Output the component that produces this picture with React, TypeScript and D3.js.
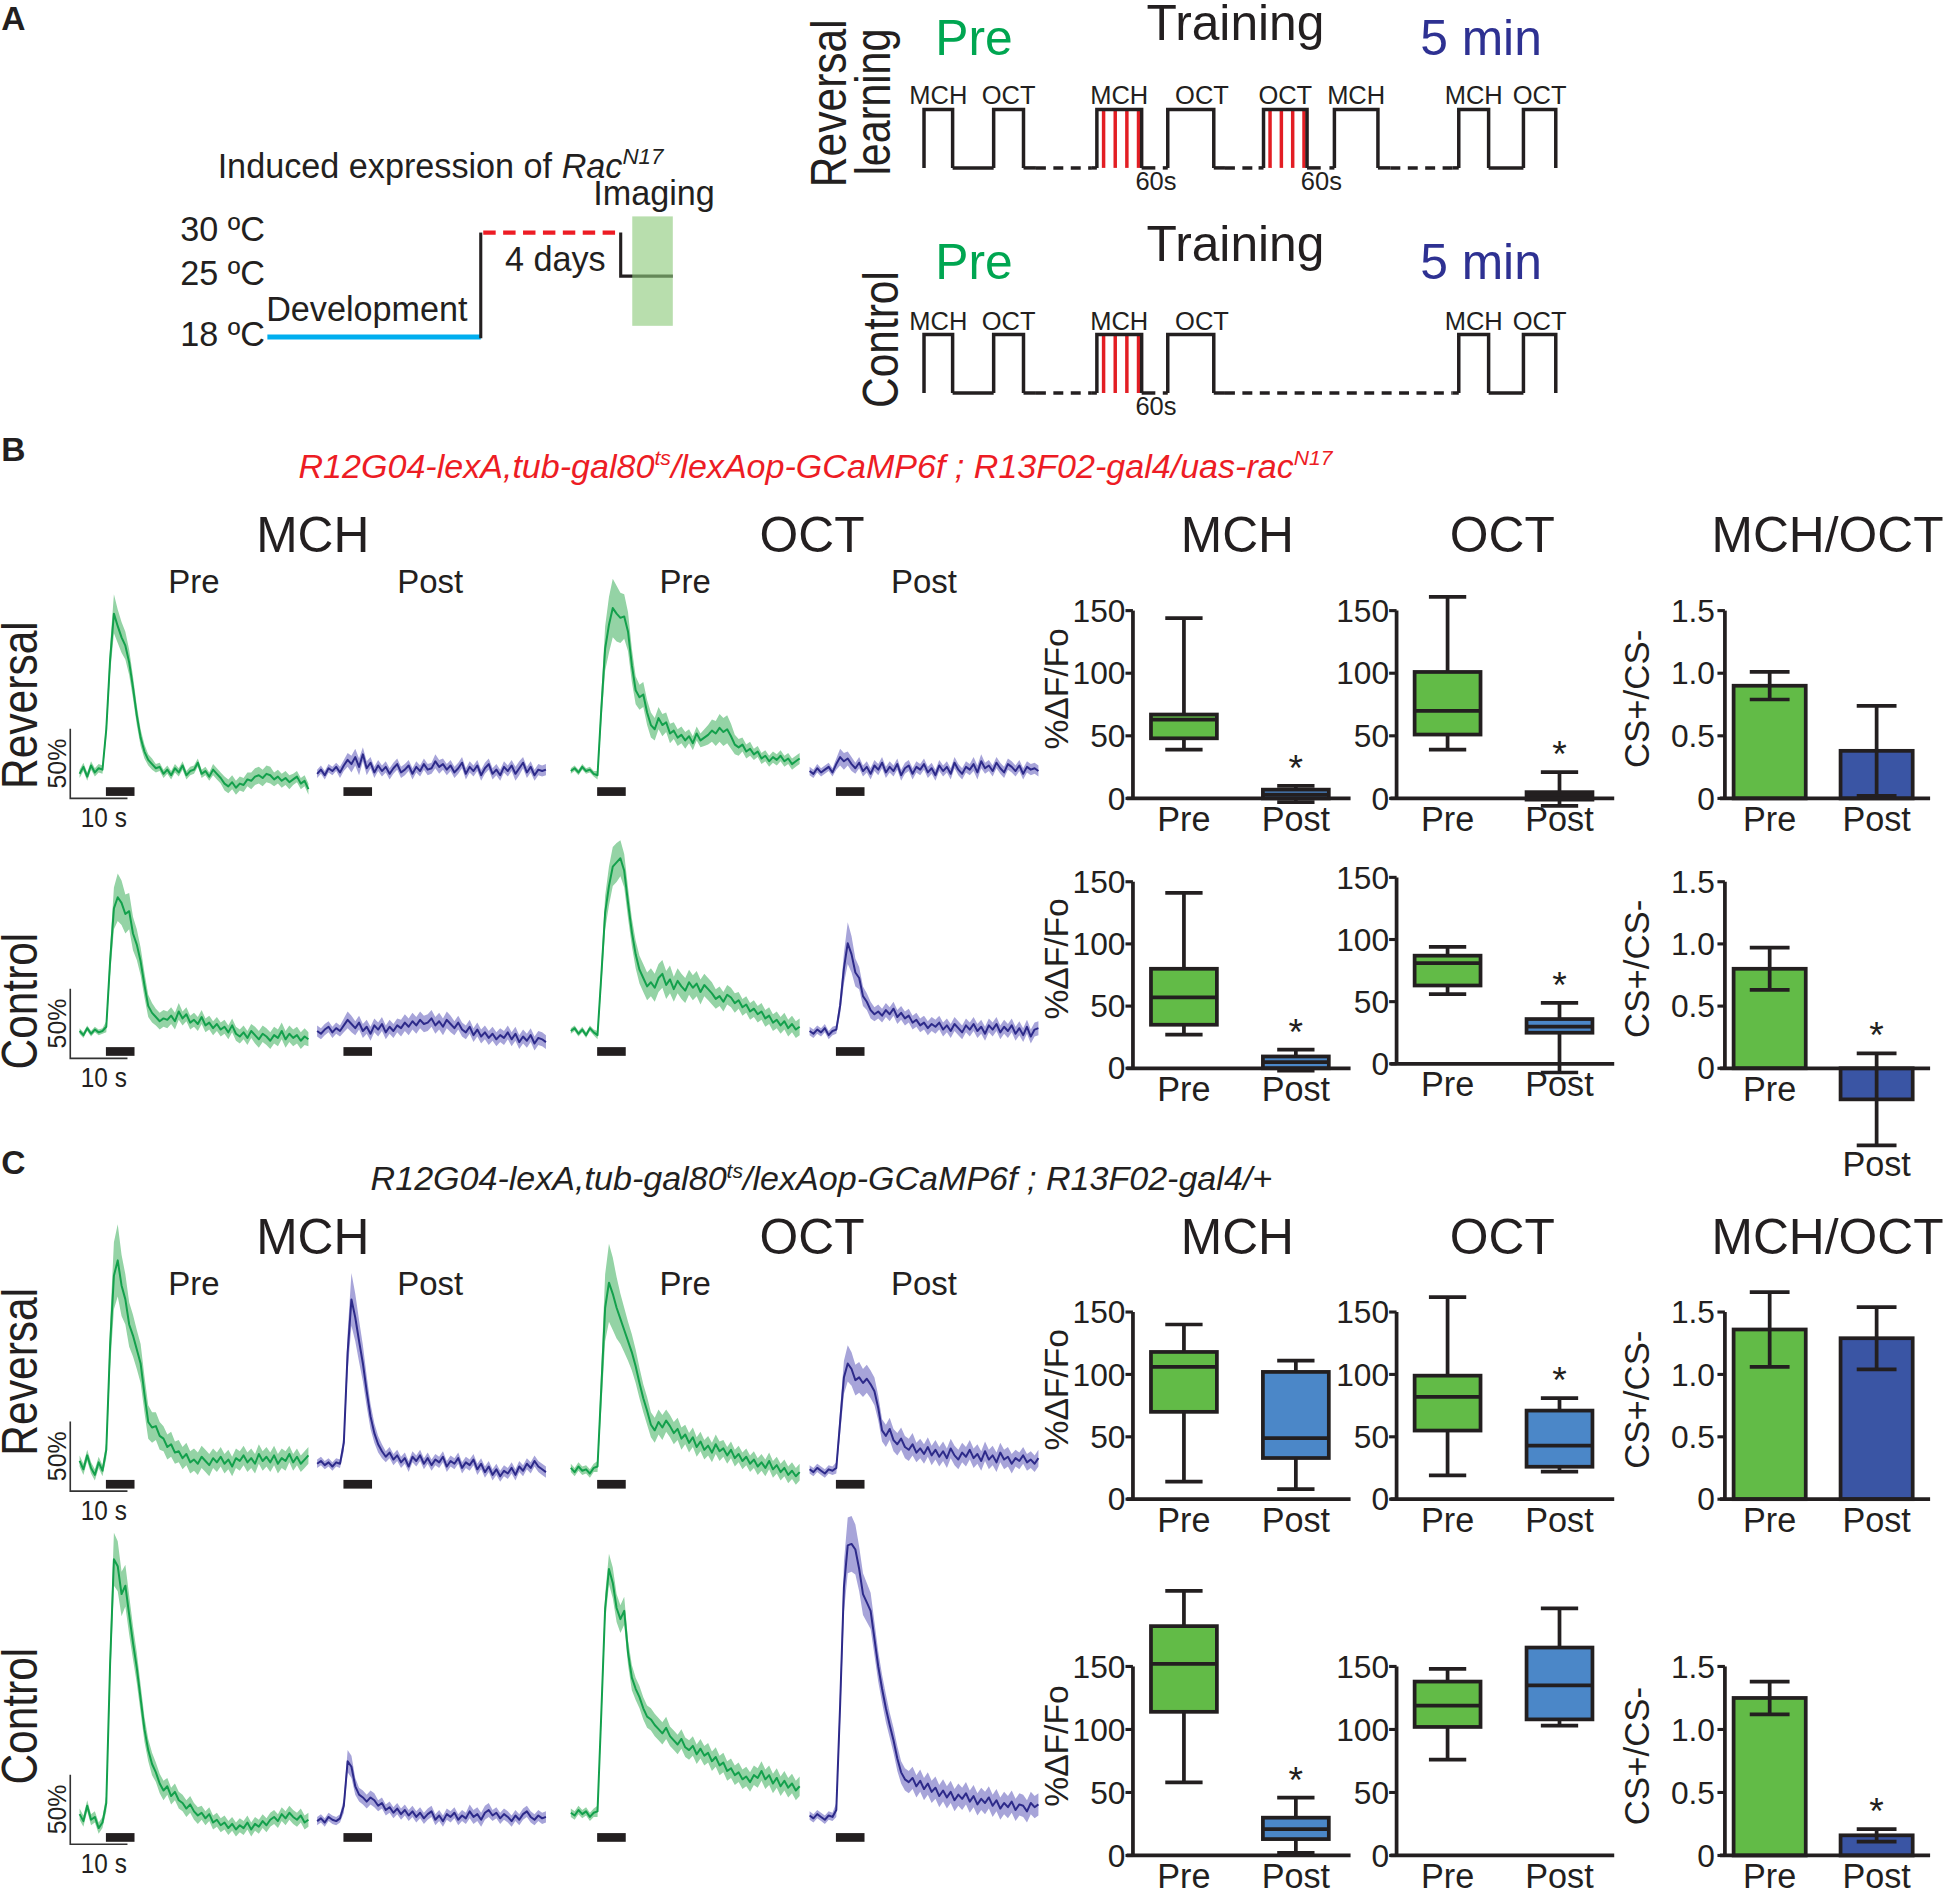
import React from 'react';
import * as d3 from 'd3';

const W = 1950;
const H = 1890;
const K = 1950 / 1568;
const FONT = "'Liberation Sans', Arial, Helvetica, sans-serif";
const INK = '#231f20';
const GREEN_LINE = '#13a04c';
const GREEN_BAND = '#94d3a5';
const BLUE_LINE = '#2d2a8a';
const BLUE_BAND = '#a7a4d9';
const BOX_GREEN = '#62bb47';
const BOX_BLUE = '#4b87c8';
const BAR_BLUE = '#3a55a4';

// ---------------- Panel A data ----------------
const tempLevels = [30, 25, 18];
const tempLabels = ['30 ºC', '25 ºC', '18 ºC'];
const timelineStops = [0, 100, 165, 171, 190]; // schematic units

const protoTopPulses = [[0, 23], [56, 80], [139, 175], [196, 233], [273, 308], [330, 365], [430, 454], [482, 508]];
const protoTopLabels = ['MCH', 'OCT', 'MCH', 'OCT', 'OCT', 'MCH', 'MCH', 'OCT'];
const protoTopShock = [false, false, true, false, true, false, false, false];
const protoTopShift = [0, 0, 0, 9, 0, 0, 0, 0];
const protoTopSolid = [[23, 56], [80, 90], [135, 139], [175, 186], [192, 196], [233, 242], [269, 273], [308, 319], [326, 330], [365, 375], [425, 430], [454, 482]];
const protoTopDashed = [[90, 135], [242, 269], [375, 425]];

const protoBotPulses = [[0, 23], [56, 80], [139, 175], [196, 233], [430, 454], [482, 508]];
const protoBotLabels = ['MCH', 'OCT', 'MCH', 'OCT', 'MCH', 'OCT'];
const protoBotShock = [false, false, true, false, false, false];
const protoBotShift = [0, 0, 0, 9, 0, 0];
const protoBotSolid = [[23, 56], [80, 90], [135, 139], [175, 186], [192, 196], [233, 242], [425, 430], [454, 482]];
const protoBotDashed = [[90, 135], [242, 425]];
const shockFractions = [0.15, 0.41, 0.67, 0.93];

// ---------------- Trace data (%ΔF/F, sampled every 2/3 s over 40 s) ----------------
const traceTimes = d3.range(61).map((i) => (i * 2) / 3);
const odorOn = 4.6;
const odorOff = 9.6;
const traceCols = ['Pre', 'Post', 'Pre', 'Post'];

const bRevMchPre = [
  -2, 3, -4, 4, -1, 2, 1, 30, 80, 113,
  104, 96, 90, 78, 60, 40, 24, 14, 8, 5,
  2, 3, -2, 1, -3, 2, -1, 4, -3, 0,
  1, 6, -2, 0, -4, 1, -2, -5, -9, -11,
  -8, -12, -9, -10, -6, -7, -4, -3, -5, -2,
  -3, -6, -4, -7, -5, -8, -6, -4, -9, -7,
  -13];
const bRevMchPreSem = [
  3, 3, 3, 3, 3, 3, 3, 6, 10, 14,
  12, 11, 10, 9, 8, 7, 6, 5, 4, 4,
  3, 3, 3, 3, 3, 3, 3, 3, 3, 3,
  3, 3, 3, 3, 3, 4, 4, 4, 5, 5,
  5, 5, 5, 5, 5, 6, 6, 6, 6, 6,
  6, 5, 5, 5, 5, 5, 4, 4, 4, 4,
  4];
const bRevMchPost = [
  -2, 1, -3, 2, 0, 3, -1, 4, 8, 5,
  10, 3, 12, 2, 6, -1, 4, 0, 3, -2,
  2, 5, -1, 1, 4, -2, 3, 0, 5, 1,
  2, 7, 3, 5, 1, 4, -1, 2, 6, -2,
  3, 0, 4, -3, 2, 5, -2, 1, -3, 3,
  0, 4, -2, 2, 6, -1, 3, -3, 1, 0,
  1];
const bRevMchPostSem = [
  3, 3, 3, 3, 3, 3, 4, 4, 5, 6,
  6, 6, 5, 5, 4, 4, 4, 4, 4, 4,
  4, 4, 4, 4, 4, 4, 4, 4, 4, 4,
  4, 5, 5, 4, 4, 4, 4, 4, 4, 4,
  4, 4, 4, 4, 4, 4, 4, 4, 4, 4,
  4, 4, 5, 5, 4, 4, 4, 4, 4, 4,
  4];
const bRevOctPre = [
  0, 2, -1, 3, 0, 1, -2, -3, 45, 88,
  105, 117, 113, 110, 111, 100, 76, 58, 53, 55,
  42, 33, 30, 38, 33, 35, 27, 29, 24, 26,
  22, 25, 20, 27, 22, 24, 26, 29, 27, 31,
  28, 30, 25, 19, 17, 19, 14, 16, 12, 14,
  9, 11, 7, 10, 8, 11, 7, 9, 5, 7,
  9];
const bRevOctPreSem = [
  2, 2, 2, 2, 2, 2, 2, 3, 10, 16,
  20, 21, 20, 18, 16, 14, 12, 10, 9, 9,
  9, 9, 8, 8, 8, 7, 7, 6, 6, 6,
  6, 5, 5, 5, 5, 6, 7, 8, 9, 10,
  10, 10, 9, 7, 6, 5, 5, 5, 4, 4,
  4, 4, 4, 4, 4, 4, 4, 4, 4, 4,
  4];
const bRevOctPost = [
  0, -2, 2, -1, 1, 3, -1, 5, 10, 7,
  9, 5, 2, 6, 0, 3, -2, 4, 1, 6,
  -1, 3, 0, 5, -3, 2, 4, -2, 3, 1,
  5, -1, 2, -3, 4, 0, 3, -2, 6, 1,
  -2, 3, 1, 5, -1, 7, 2, 4, 0, 6,
  2, -1, 5, 3, 0, 4, -2, 3, 1, 2,
  0];
const bRevOctPostSem = [
  3, 3, 3, 3, 3, 3, 3, 4, 6, 6,
  5, 5, 4, 4, 4, 4, 4, 4, 4, 4,
  4, 4, 4, 4, 4, 4, 4, 4, 4, 4,
  4, 4, 4, 4, 4, 4, 4, 4, 4, 4,
  4, 4, 4, 5, 5, 5, 4, 4, 4, 4,
  4, 4, 4, 4, 4, 4, 4, 4, 4, 4,
  4];

const bCtlMchPre = [
  0, -3, 2, -2, 1, -1, 0, 3, 50, 88,
  96, 92, 84, 86, 70, 62, 50, 33, 18, 13,
  10, 7, 9, 8, 11, 7, 14, 9, 12, 6,
  8, 5, 10, 4, 6, 2, 5, 1, 3, -1,
  4, -2, -4, -1, -5, 0, -3, -6, -2, -4,
  -7, -3, -5, 0, -6, -2, -5, -3, -7, -4,
  -6];
const bCtlMchPreSem = [
  2, 2, 2, 2, 2, 2, 2, 4, 10, 15,
  17, 16, 14, 13, 12, 11, 10, 9, 8, 7,
  6, 6, 6, 6, 6, 6, 6, 5, 5, 5,
  5, 5, 5, 5, 5, 5, 5, 5, 5, 5,
  5, 5, 5, 5, 5, 5, 6, 6, 6, 6,
  6, 6, 6, 6, 6, 6, 6, 6, 6, 6,
  5];
const bCtlMchPost = [
  0, -2, 1, 3, -1, 2, 0, 4, 8, 5,
  2, 6, 0, 3, -2, 4, 1, 5, -1, 3,
  0, 4, 2, 6, 3, 7, 4, 8, 5, 6,
  9, 4, 7, 3, 8, 5, 2, 6, 1, -1,
  3, -3, 1, -4, -1, -5, -2, -6, -3, -5,
  -1, -6, -2, -8, -4, -7, -3, -9, -5, -6,
  -8];
const bCtlMchPostSem = [
  4, 4, 4, 4, 4, 4, 4, 5, 6, 6,
  5, 5, 5, 5, 5, 5, 5, 5, 5, 5,
  5, 5, 6, 6, 6, 6, 6, 6, 6, 6,
  6, 6, 6, 6, 6, 6, 5, 5, 5, 5,
  5, 5, 5, 5, 5, 5, 5, 5, 5, 5,
  5, 5, 5, 5, 5, 5, 5, 5, 5, 5,
  5];
const bCtlOctPre = [
  0, 2, -2, 1, -3, 2, -1, -3, 40, 85,
  104, 118, 121, 124, 115, 92, 71, 55, 44, 38,
  32, 35, 31, 38, 41, 33, 37, 30, 36, 32,
  29, 35, 31, 34, 28, 33, 30, 27, 23, 25,
  21, 26, 24, 20, 22, 17, 19, 14, 16, 12,
  14, 9, 11, 6, 8, 4, 7, 2, 5, 1,
  3];
const bCtlOctPreSem = [
  2, 2, 2, 2, 2, 2, 2, 3, 8, 12,
  14, 14, 14, 13, 12, 11, 10, 10, 10, 10,
  10, 10, 10, 10, 10, 10, 10, 9, 9, 9,
  9, 9, 9, 9, 9, 8, 8, 8, 7, 7,
  7, 7, 7, 7, 6, 6, 6, 6, 6, 6,
  6, 6, 6, 6, 6, 6, 6, 6, 6, 6,
  6];
const bCtlOctPost = [
  0, -2, 1, -1, 2, -3, 0, 1, 18, 45,
  63, 55, 42, 38, 25, 21, 15, 12, 14, 11,
  15, 12, 16, 10, 13, 9, 11, 6, 8, 4,
  6, 2, 5, 3, 6, 1, 4, 0, 5, 2,
  -1, 4, 1, 5, 0, 3, -2, 4, 1, 5,
  -1, 3, 0, 4, -2, 2, -3, 3, -4, 1,
  2];
const bCtlOctPostSem = [
  3, 3, 3, 3, 3, 3, 3, 3, 6, 11,
  15, 13, 10, 8, 7, 6, 6, 5, 5, 5,
  5, 5, 5, 5, 5, 5, 5, 5, 5, 5,
  5, 5, 5, 5, 5, 5, 5, 5, 5, 5,
  5, 5, 5, 5, 5, 5, 5, 5, 5, 5,
  5, 5, 5, 5, 5, 5, 5, 5, 5, 5,
  5];

const cRevMchPre = [
  2, -4, 6, -3, -8, 1, -5, 10, 85, 135,
  146, 128, 118, 100, 92, 82, 72, 50, 30, 26,
  27, 20, 18, 12, 14, 8, 9, 4, 7, 1,
  3, 0, 5, 2, -1, 4, 1, 5, 0, 3,
  -2, 4, 2, 6, 1, 4, 0, 7, 2, 5,
  1, 6, 0, 4, 2, 7, 1, 5, 0, 3,
  6];
const cRevMchPreSem = [
  4, 4, 4, 4, 4, 4, 4, 6, 16, 24,
  26, 22, 18, 16, 15, 14, 14, 13, 12, 11,
  10, 10, 9, 9, 9, 8, 8, 8, 8, 8,
  8, 8, 8, 8, 8, 7, 7, 7, 7, 7,
  7, 7, 7, 7, 7, 7, 7, 7, 7, 7,
  7, 7, 7, 7, 7, 6, 6, 6, 6, 6,
  6];
const cRevMchPost = [
  0, 2, -1, 1, -2, 1, 0, 15, 80, 118,
  105, 88, 72, 52, 34, 22, 14, 9, 5, 8,
  3, 6, 1, 4, -2, 5, 2, 6, 0, 4,
  -1, 3, 1, 5, -2, 2, 0, 4, -3, 1,
  -1, 3, -4, 0, -6, -2, -8, -4, -9, -5,
  -7, -3, -8, -2, -5, 0, -3, 2, -2, -4,
  -6];
const cRevMchPostSem = [
  3, 3, 3, 3, 3, 3, 3, 6, 14, 19,
  17, 15, 13, 11, 9, 7, 6, 5, 4, 4,
  4, 4, 4, 4, 4, 4, 4, 4, 4, 4,
  4, 4, 4, 4, 4, 4, 4, 4, 4, 4,
  4, 4, 4, 4, 4, 4, 4, 4, 4, 4,
  4, 4, 4, 4, 4, 4, 4, 4, 4, 4,
  4];
const cRevOctPre = [
  -3, -6, -2, -5, -4, -7, -3, -2, 55, 112,
  130, 122, 112, 104, 96, 88, 80, 70, 58, 47,
  38, 28, 24, 30, 26, 31, 27, 22, 25, 18,
  21, 15, 19, 12, 16, 10, 13, 8, 14, 9,
  11, 6, 10, 4, 7, 2, 5, 0, 3, -2,
  1, -3, 2, -4, -1, -6, -3, -8, -5, -9,
  -6];
const cRevOctPreSem = [
  3, 3, 3, 3, 3, 3, 3, 4, 15, 24,
  28, 26, 22, 18, 16, 14, 13, 12, 11, 10,
  10, 9, 9, 9, 9, 8, 8, 8, 8, 8,
  7, 7, 7, 7, 7, 7, 7, 7, 7, 7,
  6, 6, 6, 6, 6, 6, 6, 6, 6, 6,
  6, 6, 6, 6, 6, 6, 6, 6, 6, 6,
  6];
const cRevOctPost = [
  -4, -6, -3, -5, -7, -4, -5, -3, 30, 62,
  72, 68, 60, 62, 58, 61, 57, 52, 40, 24,
  20, 25, 17, 14, 18, 12, 10, 14, 8, 11,
  7, 12, 6, 10, 5, 9, 4, 11, 6, 3,
  8, 5, 10, 4, 7, 2, 9, 3, 6, 1,
  8, 3, 5, 0, 4, 2, 6, 1, 3, 0,
  4];
const cRevOctPostSem = [
  3, 3, 3, 3, 3, 3, 3, 4, 9, 12,
  13, 12, 11, 11, 10, 10, 10, 10, 9, 8,
  8, 8, 8, 8, 8, 8, 8, 8, 7, 7,
  7, 7, 7, 7, 7, 7, 7, 7, 7, 7,
  7, 7, 7, 7, 7, 7, 7, 7, 7, 7,
  7, 7, 7, 7, 6, 6, 6, 6, 6, 6,
  6];

const cCtlMchPre = [
  2, -3, 8, -2, 0, -8, -4, 10, 110, 185,
  180, 160, 166, 145, 125, 107, 85, 63, 48, 38,
  32, 24, 19, 22, 15, 18, 12, 10, 6, 9,
  4, 1, 3, -1, 2, -4, -2, -6, -4, -8,
  -5, -9, -6, -8, -4, -9, -5, -7, -3, -6,
  -2, 0, -3, 2, -1, 3, 0, -2, 1, -4,
  -2];
const cCtlMchPreSem = [
  4, 4, 4, 4, 4, 4, 4, 6, 14, 19,
  18, 16, 15, 14, 12, 11, 10, 9, 8, 8,
  7, 7, 7, 6, 6, 6, 6, 6, 6, 6,
  6, 6, 5, 5, 5, 5, 5, 5, 5, 5,
  5, 5, 5, 5, 5, 5, 5, 5, 5, 5,
  5, 5, 5, 5, 5, 5, 5, 5, 5, 5,
  5];
const cCtlMchPost = [
  -3, -1, -4, 0, -2, -3, -1, 8, 40, 36,
  22, 16, 14, 11, 14, 12, 8, 10, 5, 7,
  3, 6, 2, 5, 1, 4, 0, 3, -1, 2,
  4, -2, 1, -3, 2, 0, 3, -2, 1, -1,
  4, 0, 2, -2, 3, 5, 1, 3, -1, 2,
  0, -3, 1, -2, 2, 4, 0, -2, 1, -1,
  0];
const cCtlMchPostSem = [
  3, 3, 3, 3, 3, 3, 3, 5, 8, 8,
  6, 5, 5, 5, 5, 5, 4, 4, 4, 4,
  4, 4, 4, 4, 4, 4, 4, 4, 4, 4,
  4, 4, 4, 4, 4, 4, 4, 4, 4, 4,
  5, 5, 5, 5, 5, 5, 4, 4, 4, 4,
  4, 4, 4, 4, 4, 4, 4, 4, 4, 4,
  4];
const cCtlOctPre = [
  3, 1, 5, 2, 4, 0, 3, 4, 75, 150,
  178, 168, 150, 142, 148, 118, 100, 92, 86, 78,
  72, 70, 66, 63, 60, 64, 58, 55, 52, 56,
  50, 48, 51, 45, 49, 44, 46, 40, 43, 37,
  39, 33, 35, 30, 32, 27, 29, 25, 30, 28,
  33, 27, 30, 24, 28, 22, 26, 21, 24, 19,
  22];
const cCtlOctPreSem = [
  3, 3, 3, 3, 3, 3, 3, 4, 8, 10,
  11, 11, 10, 10, 10, 9, 9, 8, 8, 8,
  8, 8, 8, 8, 8, 8, 7, 7, 7, 7,
  7, 7, 7, 7, 7, 7, 7, 7, 7, 7,
  7, 7, 7, 7, 7, 7, 7, 7, 7, 7,
  7, 7, 7, 7, 7, 7, 7, 7, 7, 7,
  7];
const cCtlOctPost = [
  1, -1, 2, 0, -2, 1, 0, 5, 80, 165,
  195, 196, 192, 178, 160, 154, 148, 128, 108, 92,
  78, 66, 55, 42, 32, 27, 25, 28, 22, 26,
  20, 24, 18, 21, 15, 19, 14, 18, 12, 16,
  13, 17, 11, 15, 9, 13, 10, 14, 8, 12,
  6, 10, 7, 11, 5, 9, 8, 4, 10, 7,
  9];
const cCtlOctPostSem = [
  3, 3, 3, 3, 3, 3, 3, 5, 12, 18,
  20, 20, 18, 16, 15, 14, 13, 12, 11, 10,
  10, 9, 9, 9, 8, 8, 8, 8, 8, 8,
  8, 8, 8, 8, 8, 8, 8, 8, 8, 8,
  8, 8, 8, 8, 8, 8, 8, 8, 8, 8,
  8, 8, 8, 8, 8, 8, 8, 8, 8, 8,
  8];

// ---------------- Summary data ----------------
const groups = ['Pre', 'Post'];
const boxTicks = [0, 50, 100, 150];
const ratioTicks = [0, 0.5, 1.0, 1.5];
const ratioTickLabels = ['0', '0.5', '1.0', '1.5'];
// [min, q1, median, q3, max]
const bRevMchBox = [[39, 48, 63, 67, 144], [-3, 0, 3, 7, 10]];
const bRevOctBox = [[39, 51, 70, 101, 161], [-6, -1, 2, 5, 21]];
const bCtlMchBox = [[27, 35, 57, 80, 141], [-2, 0, 5, 9.5, 15]];
const bCtlOctBox = [[56, 63, 81, 87, 94], [-7, 25, 30, 36, 49]];
const cRevMchBox = [[14, 70, 106, 118, 140], [8, 33, 49, 102, 111]];
const cRevOctBox = [[19, 55, 82, 99, 162], [22, 26, 43, 71, 81]];
const cCtlMchBox = [[58, 114, 152, 182, 210], [2, 13, 21, 30, 46]];
const cCtlOctBox = [[76, 102, 119, 138, 148], [103, 108, 135, 165, 196]];
// CS+/CS- ratio, mean and SEM
const bRevRatio = [0.9, 0.38];
const bRevRatioSem = [0.11, 0.36];
const bCtlRatio = [0.8, -0.25];
const bCtlRatioSem = [0.17, 0.37];
const cRevRatio = [1.36, 1.29];
const cRevRatioSem = [0.3, 0.25];
const cCtlRatio = [1.25, 0.16];
const cCtlRatioSem = [0.13, 0.05];
// significance marks [MCH, OCT, ratio] x [Pre, Post]
const bRevSig = [[0, 1], [0, 1], [0, 0]];
const bCtlSig = [[0, 1], [0, 1], [0, 1]];
const cRevSig = [[0, 0], [0, 1], [0, 0]];
const cCtlSig = [[0, 1], [0, 0], [0, 1]];

// ---------------- helpers ----------------
function Txt(props: any) {
  const { x, y, size, anchor = 'start', fill = INK, weight, italic, rot, len, children } = props;
  return (
    <text
      x={x}
      y={y}
      fontSize={size}
      textAnchor={anchor}
      fill={fill}
      fontWeight={weight}
      fontStyle={italic ? 'italic' : undefined}
      fontFamily={FONT}
      transform={rot ? `rotate(-90 ${x} ${y})` : undefined}
      textLength={len}
      lengthAdjust={len ? 'spacingAndGlyphs' : undefined}
    >
      {children}
    </text>
  );
}

function PanelALeft() {
  const x = d3.scaleLinear().domain([0, 190]).range([215, 541]);
  const y = d3.scaleLinear().domain([18, 30]).range([271, 187]);
  const [s0, s1, s2, s3, s4] = timelineStops;
  return (
    <g>
      <text x={175} y={143} fontSize={27.5} fill={INK} fontFamily={FONT}>
        Induced expression of <tspan fontStyle="italic">Rac</tspan>
        <tspan fontStyle="italic" fontSize={18} dy={-11}>N17</tspan>
      </text>
      <Txt x={477} y={165} size={27.5}>Imaging</Txt>
      {tempLevels.map((t, i) => (
        <Txt key={t} x={213} y={y(t) + 7} size={27.5} anchor="end">{tempLabels[i]}</Txt>
      ))}
      <Txt x={214} y={258} size={27.5}>Development</Txt>
      <Txt x={406} y={218} size={27.5}>4 days</Txt>
      <path d={`M${x(s0)},${y(18)}H${x(s1)}`} stroke="#00aeef" strokeWidth={4} fill="none" />
      <path d={`M${x(s1)},${y(18) + 1}V${y(30)}`} stroke={INK} strokeWidth={2.5} fill="none" />
      <path d={`M${x(s1) + 2},${y(30)}H${x(s2)}`} stroke="#ed1c24" strokeWidth={3.5} strokeDasharray="10 6" fill="none" />
      <path d={`M${x(s2) + 1},${y(30)}V${y(25)}H${x(s4)}`} stroke={INK} strokeWidth={2.5} fill="none" />
      <rect x={x(s3)} y={174} width={x(s4) - x(s3)} height={88} fill="#8cc97a" opacity={0.62} />
    </g>
  );
}

function Protocol(props: any) {
  const { hi, lo, pulses, labels, shock, shift, solid, dashed } = props;
  const x = d3.scaleLinear().domain([0, 508]).range([743, 1251]);
  const line = d3.line();
  return (
    <g>
      {pulses.map((p: number[], i: number) => (
        <g key={'p' + i}>
          {shock[i] &&
            shockFractions.map((f, j) => {
              const xx = x(p[0] + f * (p[1] - p[0]));
              return <line key={j} x1={xx} x2={xx} y1={hi + 1} y2={lo} stroke="#e31e24" strokeWidth={2.8} />;
            })}
          <path
            d={line([[x(p[0]), lo], [x(p[0]), hi], [x(p[1]), hi], [x(p[1]), lo]] as any) as string}
            fill="none"
            stroke={INK}
            strokeWidth={2.8}
            strokeLinejoin="miter"
          />
          <Txt x={(x(p[0]) + x(p[1])) / 2 + shift[i]} y={hi - 4} size={20.5} anchor="middle">{labels[i]}</Txt>
          {shock[i] && <Txt x={x(p[1]) - 5} y={lo + 18} size={20.5}>60s</Txt>}
        </g>
      ))}
      {solid.map((s: number[], i: number) => (
        <line key={'s' + i} x1={x(s[0])} x2={x(s[1])} y1={lo} y2={lo} stroke={INK} strokeWidth={2.8} />
      ))}
      {dashed.map((s: number[], i: number) => (
        <line key={'d' + i} x1={x(s[0])} x2={x(s[1])} y1={lo} y2={lo} stroke={INK} strokeWidth={2.8} strokeDasharray="8 6" />
      ))}
    </g>
  );
}

function PanelARight() {
  return (
    <g>
      <Txt x={680} y={83} size={40} anchor="middle" rot len={135}>Reversal</Txt>
      <Txt x={716} y={82} size={40} anchor="middle" rot len={118}>learning</Txt>
      <Txt x={722} y={273} size={40} anchor="middle" rot len={110}>Control</Txt>
      <Txt x={752} y={44} size={40} fill="#00a651">Pre</Txt>
      <Txt x={922} y={32} size={40}>Training</Txt>
      <Txt x={1142} y={44} size={40} fill="#2e3192">5 min</Txt>
      <Txt x={752} y={224} size={40} fill="#00a651">Pre</Txt>
      <Txt x={922} y={210} size={40}>Training</Txt>
      <Txt x={1142} y={224} size={40} fill="#2e3192">5 min</Txt>
      <Protocol hi={88} lo={135} pulses={protoTopPulses} labels={protoTopLabels} shock={protoTopShock} shift={protoTopShift} solid={protoTopSolid} dashed={protoTopDashed} />
      <Protocol hi={269} lo={316} pulses={protoBotPulses} labels={protoBotLabels} shock={protoBotShock} shift={protoBotShift} solid={protoBotSolid} dashed={protoBotDashed} />
    </g>
  );
}

const TRACE_X = [64, 255, 459, 651];
const TRACE_W = 184;

function Trace(props: any) {
  const { x0, y0, mean, sem, blue } = props;
  const xs = d3.scaleLinear().domain([0, 40]).range([x0, x0 + TRACE_W]);
  const ys = d3.scaleLinear().domain([0, 50]).range([y0, y0 - 56]);
  const pts = traceTimes.map((t, i) => ({ t, m: mean[i], s: sem[i] ?? 0 }));
  const area = d3.area<any>().x((d) => xs(d.t)).y0((d) => ys(d.m - d.s)).y1((d) => ys(d.m + d.s));
  const line = d3.line<any>().x((d) => xs(d.t)).y((d) => ys(d.m));
  return (
    <g>
      <path d={area(pts) as string} fill={blue ? BLUE_BAND : GREEN_BAND} />
      <path d={line(pts) as string} fill="none" stroke={blue ? BLUE_LINE : GREEN_LINE} strokeWidth={1.6} strokeLinejoin="round" />
      <rect x={xs(odorOn)} y={y0 + 13} width={xs(odorOff) - xs(odorOn)} height={7} fill={INK} />
    </g>
  );
}

function TraceRow(props: any) {
  const { y0, label, len, ly, data } = props;
  const sy = d3.scaleLinear().domain([0, 50]).range([y0 + 22, y0 - 34]);
  const sx = d3.scaleLinear().domain([0, 10]).range([56.5, 102.5]);
  return (
    <g>
      <Txt x={30} y={ly} size={40} anchor="middle" rot len={len}>{label}</Txt>
      {data.map((d: any, i: number) => (
        <Trace key={i} x0={TRACE_X[i]} y0={y0} mean={d[0]} sem={d[1]} blue={i % 2 === 1} />
      ))}
      <path d={`M${sx(0)},${sy(50)}V${sy(0)}H${sx(10)}`} fill="none" stroke="#333" strokeWidth={1.3} />
      <Txt x={53} y={sy(25)} size={20} anchor="middle" rot>50%</Txt>
      <Txt x={65} y={y0 + 45} size={21.5} len={37}>10 s</Txt>
    </g>
  );
}

function BoxPlot(props: any) {
  const { ax, y0, top, stats, sig } = props;
  const y = d3.scaleLinear().domain([0, 150]).range([y0, top]);
  const x = d3.scalePoint().domain(groups).range([ax + 41, ax + 131]);
  const hw = 26.5;
  const cw = 15;
  return (
    <g>
      <line x1={ax} x2={ax} y1={y(150)} y2={y(0)} stroke={INK} strokeWidth={3} />
      {boxTicks.map((v) => (
        <g key={v}>
          <line x1={ax - 6} x2={ax} y1={y(v)} y2={y(v)} stroke={INK} strokeWidth={2.5} />
          <Txt x={ax - 6} y={y(v) + 9} size={25.5} anchor="end">{v}</Txt>
        </g>
      ))}
      {stats.map((s: number[], i: number) => {
        const cx = x(groups[i]) as number;
        const [mn, q1, md, q3, mx] = s;
        return (
          <g key={i}>
            <line x1={cx} x2={cx} y1={y(mx)} y2={y(mn)} stroke={INK} strokeWidth={3} />
            <line x1={cx - cw} x2={cx + cw} y1={y(mx)} y2={y(mx)} stroke={INK} strokeWidth={3} />
            <line x1={cx - cw} x2={cx + cw} y1={y(mn)} y2={y(mn)} stroke={INK} strokeWidth={3} />
            <rect x={cx - hw} y={y(q3)} width={hw * 2} height={Math.max(1, y(q1) - y(q3))} fill={i === 0 ? BOX_GREEN : BOX_BLUE} stroke={INK} strokeWidth={3} />
            <line x1={cx - hw} x2={cx + hw} y1={y(md)} y2={y(md)} stroke={INK} strokeWidth={3} />
            {sig[i] ? <Txt x={cx} y={y(mx) - 4} size={30} anchor="middle">*</Txt> : null}
            <Txt x={cx} y={y0 + 26} size={27.5} anchor="middle">{groups[i]}</Txt>
          </g>
        );
      })}
      <line x1={ax - 5} x2={ax + 175} y1={y(0)} y2={y(0)} stroke={INK} strokeWidth={3} />
    </g>
  );
}

function RatioPlot(props: any) {
  const { ax, y0, top, vals, sems, sig } = props;
  const y = d3.scaleLinear().domain([0, 1.5]).range([y0, top]);
  const x = d3.scalePoint().domain(groups).range([ax + 36, ax + 122]);
  const hw = 29;
  const cw = 16;
  return (
    <g>
      <line x1={ax} x2={ax} y1={y(1.5)} y2={y(0)} stroke={INK} strokeWidth={3} />
      {ratioTicks.map((v, i) => (
        <g key={v}>
          <line x1={ax - 6} x2={ax} y1={y(v)} y2={y(v)} stroke={INK} strokeWidth={2.5} />
          <Txt x={ax - 8} y={y(v) + 9} size={25.5} anchor="end">{ratioTickLabels[i]}</Txt>
        </g>
      ))}
      {vals.map((v: number, i: number) => {
        const cx = x(groups[i]) as number;
        const s = sems[i];
        const y1 = Math.min(y(v), y(0));
        const h = Math.abs(y(v) - y(0));
        const lab = Math.max(y0 + 26, y(v - s) + 25);
        return (
          <g key={i}>
            <rect x={cx - hw} y={y1} width={hw * 2} height={h} fill={i === 0 ? BOX_GREEN : BAR_BLUE} stroke={INK} strokeWidth={3} />
            <line x1={cx} x2={cx} y1={y(v + s)} y2={y(v - s)} stroke={INK} strokeWidth={3} />
            <line x1={cx - cw} x2={cx + cw} y1={y(v + s)} y2={y(v + s)} stroke={INK} strokeWidth={3} />
            <line x1={cx - cw} x2={cx + cw} y1={y(v - s)} y2={y(v - s)} stroke={INK} strokeWidth={3} />
            {sig[i] ? <Txt x={cx} y={y(v + s) - 4} size={30} anchor="middle">*</Txt> : null}
            <Txt x={cx} y={lab} size={27.5} anchor="middle">{groups[i]}</Txt>
          </g>
        );
      })}
      <line x1={ax - 4} x2={ax + 165} y1={y(0)} y2={y(0)} stroke={INK} strokeWidth={3} />
    </g>
  );
}

function SummaryRow(props: any) {
  const { y0, top, octY0, octTop, mch, oct, ratio, ratioSem, sig } = props;
  return (
    <g>
      <Txt x={859} y={y0 - 88} size={27} anchor="middle" rot>%ΔF/Fo</Txt>
      <Txt x={1326} y={y0 - 80} size={28} anchor="middle" rot>CS+/CS-</Txt>
      <BoxPlot ax={911} y0={y0} top={top} stats={mch} sig={sig[0]} />
      <BoxPlot ax={1123} y0={octY0 ?? y0} top={octTop ?? top} stats={oct} sig={sig[1]} />
      <RatioPlot ax={1387} y0={y0} top={top} vals={ratio} sems={ratioSem} sig={sig[2]} />
    </g>
  );
}

function Titles(props: any) {
  const { y, sy } = props;
  return (
    <g>
      <Txt x={251.5} y={y} size={40} anchor="middle">MCH</Txt>
      <Txt x={653} y={y} size={40} anchor="middle">OCT</Txt>
      <Txt x={995} y={y} size={40} anchor="middle">MCH</Txt>
      <Txt x={1208} y={y} size={40} anchor="middle">OCT</Txt>
      <Txt x={1469.5} y={y} size={40} anchor="middle">MCH/OCT</Txt>
      {traceCols.map((c, i) => (
        <Txt key={i} x={TRACE_X[i] + 92 + [0, -1, 0, 0][i]} y={sy} size={26.5} anchor="middle">{c}</Txt>
      ))}
    </g>
  );
}

export default function App() {
  const rows = [
    { y0: 620, label: 'Reversal', len: 135, ly: 567, data: [[bRevMchPre, bRevMchPreSem], [bRevMchPost, bRevMchPostSem], [bRevOctPre, bRevOctPreSem], [bRevOctPost, bRevOctPostSem]] },
    { y0: 829, label: 'Control', len: 110, ly: 805, data: [[bCtlMchPre, bCtlMchPreSem], [bCtlMchPost, bCtlMchPostSem], [bCtlOctPre, bCtlOctPreSem], [bCtlOctPost, bCtlOctPostSem]] },
    { y0: 1177, label: 'Reversal', len: 135, ly: 1103, data: [[cRevMchPre, cRevMchPreSem], [cRevMchPost, cRevMchPostSem], [cRevOctPre, cRevOctPreSem], [cRevOctPost, cRevOctPostSem]] },
    { y0: 1461, label: 'Control', len: 110, ly: 1380, data: [[cCtlMchPre, cCtlMchPreSem], [cCtlMchPost, cCtlMchPostSem], [cCtlOctPre, cCtlOctPreSem], [cCtlOctPost, cCtlOctPostSem]] },
  ];
  const sums = [
    { y0: 642, top: 491, mch: bRevMchBox, oct: bRevOctBox, ratio: bRevRatio, ratioSem: bRevRatioSem, sig: bRevSig },
    { y0: 859, top: 709, octY0: 855.4, octTop: 705.5, mch: bCtlMchBox, oct: bCtlOctBox, ratio: bCtlRatio, ratioSem: bCtlRatioSem, sig: bCtlSig },
    { y0: 1205.5, top: 1055, mch: cRevMchBox, oct: cRevOctBox, ratio: cRevRatio, ratioSem: cRevRatioSem, sig: cRevSig },
    { y0: 1492, top: 1340, mch: cCtlMchBox, oct: cCtlOctBox, ratio: cCtlRatio, ratioSem: cCtlRatioSem, sig: cCtlSig },
  ];
  return (
    <div style={{ position: 'absolute', left: 0, top: 0, width: W, height: H, background: '#fff' }}>
      <svg width={W} height={H} viewBox={`0 0 ${W} ${H}`} style={{ display: 'block' }}>
        <rect width={W} height={H} fill="#fff" />
        <g transform={`scale(${K})`}>
          <Txt x={1} y={24} size={27} weight="bold">A</Txt>
          <PanelALeft />
          <PanelARight />

          <Txt x={1} y={371} size={27} weight="bold">B</Txt>
          <text x={240} y={384} fontSize={27.4} fontStyle="italic" fill="#ed1c24" fontFamily={FONT}>
            R12G04-lexA,tub-gal80<tspan fontSize={17} dy={-10}>ts</tspan>
            <tspan dy={10}>/lexAop-GCaMP6f ; R13F02-gal4/uas-rac</tspan>
            <tspan fontSize={17} dy={-10}>N17</tspan>
          </text>
          <Titles y={444} sy={477} />

          <Txt x={1} y={944} size={27} weight="bold">C</Txt>
          <text x={298} y={957} fontSize={27.4} fontStyle="italic" fill={INK} fontFamily={FONT}>
            R12G04-lexA,tub-gal80<tspan fontSize={17} dy={-10}>ts</tspan>
            <tspan dy={10}>/lexAop-GCaMP6f ; R13F02-gal4/+</tspan>
          </text>
          <Titles y={1008} sy={1041} />

          {rows.map((r, i) => (
            <TraceRow key={i} {...r} />
          ))}
          {sums.map((s, i) => (
            <SummaryRow key={i} {...s} />
          ))}
        </g>
      </svg>
    </div>
  );
}
